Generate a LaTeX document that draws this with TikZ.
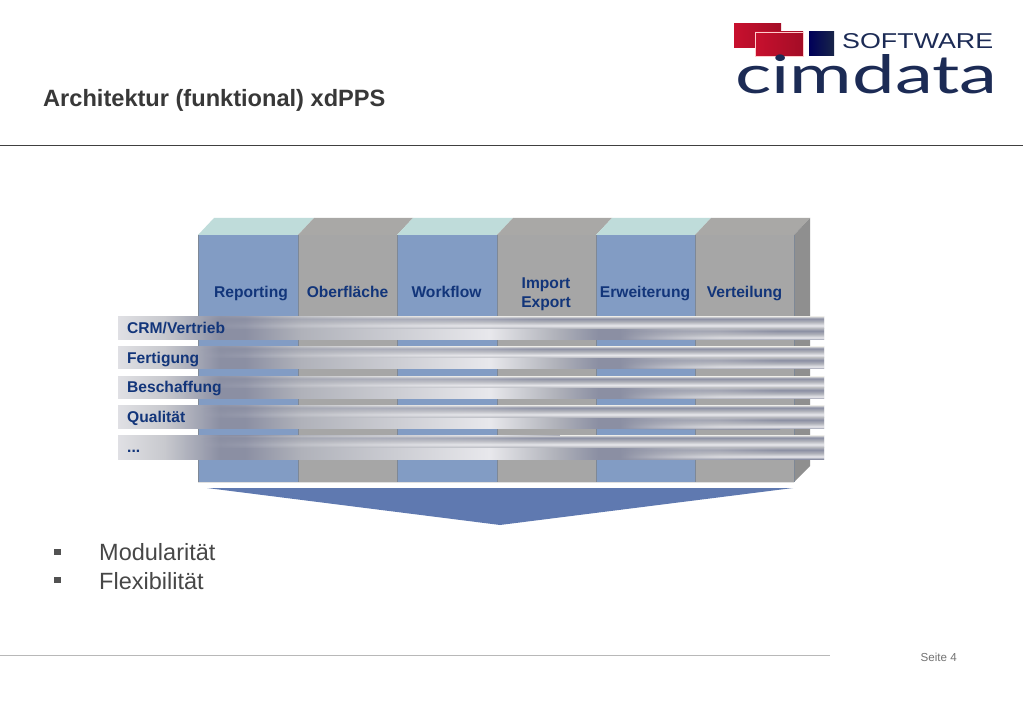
\documentclass[tikz,border=0pt]{standalone}
\usepackage{fontspec}
\usepackage{graphicx}
\usetikzlibrary{fadings}
\setmainfont{Liberation Sans}
\definecolor{blueface}{HTML}{829CC4}
\definecolor{greyface}{HTML}{A6A6A6}
\definecolor{bluetop}{HTML}{BFDCDA}
\definecolor{greytop}{HTML}{A9A8A6}
\definecolor{sideface}{HTML}{8F8F8F}
\definecolor{edgeline}{HTML}{7E8896}
\definecolor{labelblue}{HTML}{12357A}
\definecolor{logonavy}{HTML}{1C2B55}
\definecolor{logored}{HTML}{C8102E}
\definecolor{logodark}{HTML}{A30D26}
\definecolor{arrowblue}{HTML}{5F79B0}
\definecolor{barlight}{HTML}{E0E0E4}
\definecolor{barpale}{HTML}{C8C9CE}
\definecolor{bardark}{HTML}{8B8FA3}
\definecolor{barmid}{HTML}{B0B2BA}
\definecolor{barwhite}{HTML}{E8E8EC}
\pgfdeclarehorizontalshading{barbase}{100bp}{
    color(0bp)=(barlight);
    color(25bp)=(barlight);
    color(28.3bp)=(barpale);
    color(32.2bp)=(bardark);
    color(34bp)=(bardark);
    color(38bp)=(barmid);
    color(51.3bp)=(barwhite);
    color(56bp)=(barmid);
    color(59bp)=(bardark);
    color(60.5bp)=(bardark);
    color(67.6bp)=(barpale);
    color(75bp)=(barpale);
    color(100bp)=(barpale)}
\pgfdeclareverticalshading{bandtop}{100bp}{
    color(0bp)=(barmid);
    color(25bp)=(barmid);
    color(38bp)=(barwhite);
    color(54bp)=(barmid);
    color(68bp)=(bardark);
    color(75bp)=(barpale);
    color(100bp)=(barpale)}
\pgfdeclareverticalshading{bandlow}{100bp}{
    color(0bp)=(bardark);
    color(25bp)=(bardark);
    color(35bp)=(barwhite);
    color(50bp)=(barmid);
    color(65bp)=(bardark);
    color(75bp)=(barmid);
    color(100bp)=(barmid)}
\tikzset{
    x=1pt, y=-1pt,
    column/.style={line width=0.5pt, draw=edgeline},
    columnlabel/.style={text=labelblue, font=\fontsize{15.6}{18.5}\selectfont\bfseries, anchor=base, inner sep=0pt},
    barlabel/.style={text=labelblue, font=\fontsize{15.6}{18}\selectfont\bfseries, anchor=base west, inner sep=0pt},
    bodytext/.style={text=black!72, font=\fontsize{23.5}{28}\selectfont, anchor=base west, inner sep=0pt},
    bulletbox/.style={fill=black!68, minimum size=6.5pt, inner sep=0pt}
}
\def\threedots{...}
\begin{document}
\begin{tikzpicture}
        \useasboundingbox (0,0) rectangle (1023,708);
        \fill[white] (0,0) rectangle (1023,708);

        \node[anchor=base west, inner sep=0pt, text=black!78, font=\fontsize{23.6}{28}\selectfont\bfseries] (title) at (43,107) {Architektur (funktional) xdPPS};
        \draw[black!75, line width=0.8pt] (0,145.5) -- (1023,145.5);
        \draw[black!28, line width=1pt] (0,655.5) -- (830,655.5);
        \node[anchor=base east, inner sep=0pt, text=black!55, font=\fontsize{11.6}{14}\selectfont] (pagenum) at (957,661) {Seite 4};

        \shade[left color=logored, right color=logodark] (734,24) rectangle (781,48);
        \shade[left color=logored, right color=logodark, draw=red!20, line width=0.6pt] (755,32) rectangle (803,56);
        \shade[left color=blue!35!black, right color=logonavy!85!black] (809,32) rectangle (834,56);
        \node[anchor=north west, inner sep=0pt, text=logonavy] (software) at (842,33) {\resizebox{151pt}{15pt}{SOFTWARE}};
        \node[anchor=south west, inner sep=0pt, text=logonavy] (cimdata) at (735,94) {\resizebox{262pt}{39pt}{\fontspec{Lato}cimdata}};

        \foreach \xa/\xb/\facecol/\topcol in {198/298/blueface/bluetop, 298/397/greyface/greytop, 397/497/blueface/bluetop, 497/596/greyface/greytop, 596/695/blueface/bluetop, 695/794/greyface/greytop} {
            \fill[\topcol] (\xa,235) -- (\xa+16,218) -- (\xb+16,218) -- (\xb,235) -- cycle;
            \fill[\facecol] (\xa,235) rectangle (\xb,482);
            \draw[column] (\xa,235) -- (\xa,482);
        }
        \fill[sideface] (794,235) -- (810,218) -- (810,466) -- (794,482) -- cycle;
        \draw[column] (794,235) -- (794,482);
        \draw[black!12, line width=1pt] (198,482.5) -- (794,482.5);
        \fill[arrowblue] (207,488) -- (793,488) -- (500,525) -- cycle;

        \node[columnlabel] (reporting) at (251,298) {Reporting};
        \node[columnlabel] (oberflaeche) at (347.5,298) {Oberfläche};
        \node[columnlabel] (workflow) at (446.5,298) {Workflow};
        \node[columnlabel] (import) at (546,289) {Import};
        \node[columnlabel] (export) at (546,308) {Export};
        \node[columnlabel] (erweiterung) at (645,298) {Erweiterung};
        \node[columnlabel] (verteilung) at (744.5,298) {Verteilung};

        \foreach \ytop/\ybot/\ytext/\barname/\bartext in {317/340/334/crm/{CRM/Vertrieb}, 347/369/364/fertigung/Fertigung, 377/399/393/beschaffung/Beschaffung, 406/429/423/qualitaet/Qualität, 436/459/453/rest/\threedots} {
            \shade[shading=barbase] (118,\ytop) rectangle (824,\ybot);
            \path[shading=bandtop, path fading=west] (200,\ytop) rectangle (560,{(\ytop+\ybot)/2});
            \path[shading=bandtop] (560,\ytop) rectangle (824,{(\ytop+\ybot)/2});
            \path[shading=bandlow, path fading=west] (620,{(\ytop+\ybot)/2}) rectangle (780,\ybot);
            \path[shading=bandlow] (780,{(\ytop+\ybot)/2}) rectangle (824,\ybot);
            \node[barlabel] (\barname) at (127,\ytext) {\bartext};
        }

        \node[bulletbox] (bulleta) at (57.5,552) {};
        \node[bulletbox] (bulletb) at (57.5,580) {};
        \node[bodytext] (modular) at (99,560) {Modularität};
        \node[bodytext] (flexibel) at (99,589) {Flexibilität};
    \end{tikzpicture}
\end{document}
